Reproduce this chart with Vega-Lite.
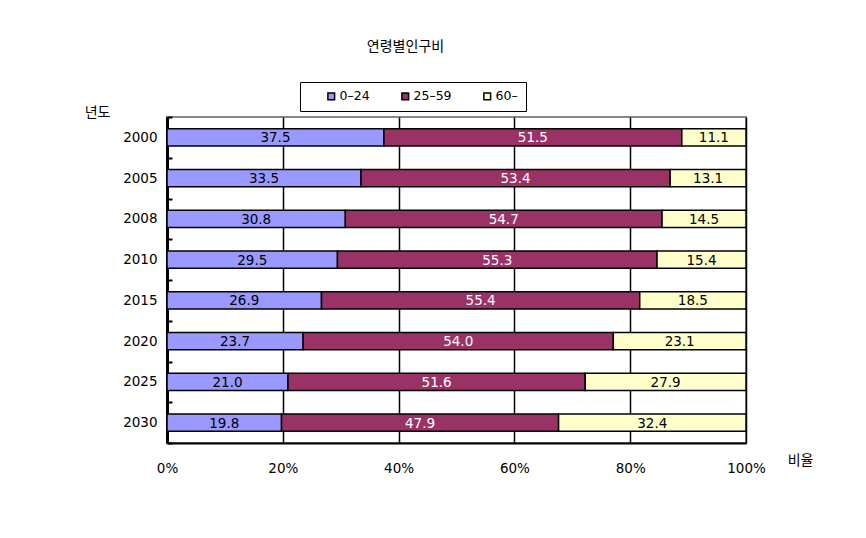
{
  "$schema": "https://vega.github.io/schema/vega-lite/v6.json",
  "width": 579,
  "height": 326,
  "autosize": {"type": "none"},
  "padding": {"left": 167, "top": 117, "right": 120, "bottom": 95},
  "background": "white",
  "title": {"text": "연령별인구비", "font": "Noto Sans CJK KR", "fontSize": 14, "fontWeight": "normal", "color": "black", "offset": 28, "dx": -51},
  "data": {"values": [
    {"year": "2000", "g": "0–24", "o": 1, "v": 37.5}, {"year": "2000", "g": "25–59", "o": 2, "v": 51.5}, {"year": "2000", "g": "60–", "o": 3, "v": 11.1},
    {"year": "2005", "g": "0–24", "o": 1, "v": 33.5}, {"year": "2005", "g": "25–59", "o": 2, "v": 53.4}, {"year": "2005", "g": "60–", "o": 3, "v": 13.1},
    {"year": "2008", "g": "0–24", "o": 1, "v": 30.8}, {"year": "2008", "g": "25–59", "o": 2, "v": 54.7}, {"year": "2008", "g": "60–", "o": 3, "v": 14.5},
    {"year": "2010", "g": "0–24", "o": 1, "v": 29.5}, {"year": "2010", "g": "25–59", "o": 2, "v": 55.3}, {"year": "2010", "g": "60–", "o": 3, "v": 15.4},
    {"year": "2015", "g": "0–24", "o": 1, "v": 26.9}, {"year": "2015", "g": "25–59", "o": 2, "v": 55.4}, {"year": "2015", "g": "60–", "o": 3, "v": 18.5},
    {"year": "2020", "g": "0–24", "o": 1, "v": 23.7}, {"year": "2020", "g": "25–59", "o": 2, "v": 54.0}, {"year": "2020", "g": "60–", "o": 3, "v": 23.1},
    {"year": "2025", "g": "0–24", "o": 1, "v": 21.0}, {"year": "2025", "g": "25–59", "o": 2, "v": 51.6}, {"year": "2025", "g": "60–", "o": 3, "v": 27.9},
    {"year": "2030", "g": "0–24", "o": 1, "v": 19.8}, {"year": "2030", "g": "25–59", "o": 2, "v": 47.9}, {"year": "2030", "g": "60–", "o": 3, "v": 32.4}
  ]},
  "encoding": {
    "y": {
      "field": "year", "type": "ordinal",
      "scale": {"paddingInner": 0, "paddingOuter": 0},
      "axis": {
        "title": "년도", "titleFont": "Noto Sans CJK KR", "titleFontSize": 14, "titleFontWeight": "normal", "titleColor": "black",
        "titleAngle": 0, "titleX": -70, "titleY": -5, "titleAlign": "center", "titleBaseline": "middle",
        "labelFont": "DejaVu Sans", "labelFontSize": 13.5, "labelColor": "black", "labelPadding": 15,
        "domainColor": "black", "domainWidth": 3, "tickBand": "extent", "tickColor": "black", "tickSize": -5, "tickWidth": 2
      }
    }
  },
  "layer": [
    {
      "mark": {"type": "bar", "height": {"band": 0.42}, "stroke": "black", "strokeWidth": 1.5},
      "encoding": {
        "x": {
          "field": "v", "type": "quantitative", "stack": "normalize",
          "scale": {"domain": [0, 1], "nice": false},
          "axis": {
            "values": [0, 0.2, 0.4, 0.6, 0.8, 1], "format": "%", "grid": true, "gridColor": "black", "gridWidth": 1.5, "gridOpacity": 1,
            "ticks": false, "domainColor": "black", "domainWidth": 2, "labelFlush": false,
            "labelFont": "DejaVu Sans", "labelFontSize": 13.5, "labelColor": "black", "labelPadding": 18,
            "title": "비율", "titleFont": "Noto Sans CJK KR", "titleFontSize": 14, "titleFontWeight": "normal", "titleColor": "black",
            "titleX": 633, "titleY": 17, "titleAlign": "center", "titleBaseline": "middle"
          }
        },
        "color": {
          "field": "g", "type": "nominal",
          "scale": {"domain": ["0–24", "25–59", "60–"], "range": ["#9999FF", "#993366", "#FFFFCC"]},
          "legend": {
            "title": null, "orient": "none", "direction": "horizontal", "legendX": 133, "legendY": -35,
            "strokeColor": "black", "padding": 8, "symbolType": "square", "symbolSize": 45, "symbolStrokeColor": "black", "symbolStrokeWidth": 1.5,
            "symbolOffset": 17, "columnPadding": 12,
            "labelFont": "DejaVu Sans", "labelFontSize": 12.5, "labelColor": "black", "labelOffset": 2
          }
        },
        "order": {"field": "o", "type": "quantitative"}
      }
    },
    {
      "mark": {"type": "text", "font": "DejaVu Sans", "fontSize": 13.5, "baseline": "middle", "align": "center", "dy": 1},
      "encoding": {
        "x": {"field": "v", "type": "quantitative", "stack": "normalize", "bandPosition": 0.5},
        "text": {"field": "v", "type": "quantitative", "format": ".1f"},
        "color": {"condition": {"test": "datum.g === '25–59'", "value": "white"}, "value": "black"},
        "order": {"field": "o", "type": "quantitative"},
        "detail": {"field": "g"}
      }
    }
  ],
  "config": {
    "view": {"stroke": "#888888", "strokeWidth": 2}
  }
}
